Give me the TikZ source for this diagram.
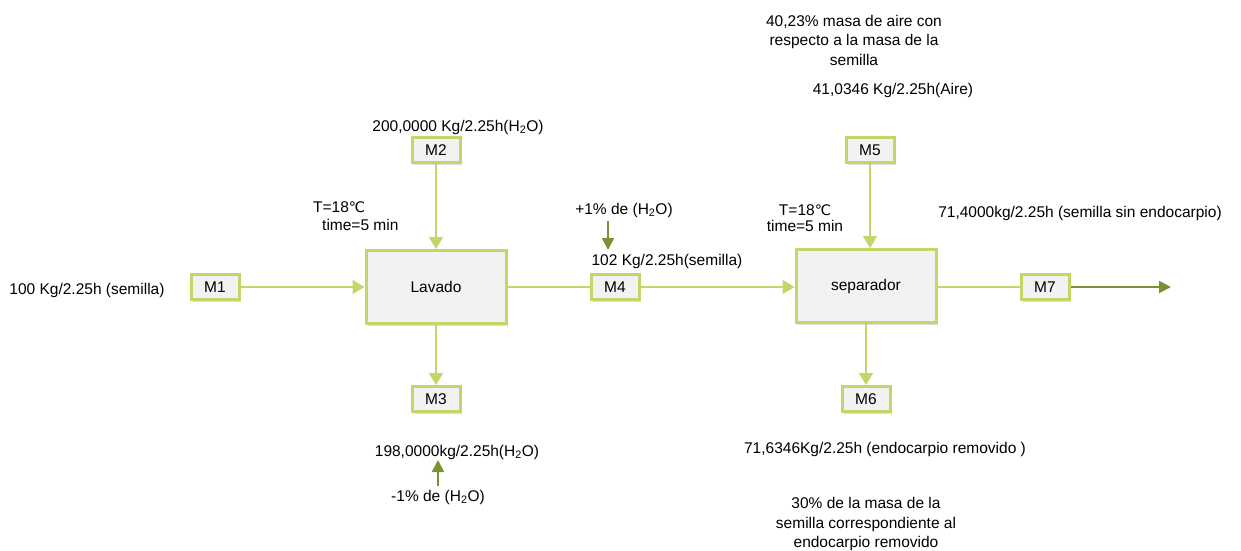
\documentclass[tikz,border=0pt]{standalone}
\usepackage{fontspec}
\setmainfont{Liberation Sans}
\newfontfamily\symfont{DejaVu Sans}
\usetikzlibrary{arrows.meta,shadows}
\definecolor{boxline}{RGB}{195,215,105}
\definecolor{boxfill}{RGB}{242,242,242}
\definecolor{olive}{RGB}{120,146,50}
\newcommand{\degC}{{\symfont\fontsize{14.5}{16}\selectfont ℃}}
\newcommand{\water}{H\textsubscript{2}O}
\tikzset{
  lbl/.style={font=\fontsize{15.5}{19.5}\selectfont, inner sep=0pt, align=center},
  stream/.style={draw=boxline, line width=3pt, fill=boxfill, minimum width=48pt,
    minimum height=25pt, inner sep=0pt, font=\fontsize{15.5}{18}\selectfont,
    drop shadow={shadow xshift=2pt, shadow yshift=-2.5pt, fill=black!25}},
  unit/.style={stream, minimum width=140pt, minimum height=73pt},
  flow/.style={draw=boxline, line width=1.8pt},
  flowarrow/.style={flow, -{Triangle[length=12pt,width=14pt]}},
  darkarrow/.style={draw=olive, line width=1.8pt, -{Triangle[length=12pt,width=12pt]}}
}
\begin{document}
\begin{tikzpicture}[x=1pt,y=-1pt]
\useasboundingbox (0,0) rectangle (1241,550);

% process units
\node[unit] (lav) at (436,287) {Lavado};
\node[unit] (sep) at (866,286) {separador};

% stream boxes
\node[stream] (m1) at (215,287) {M1};
\node[stream] (m2) at (436,150) {M2};
\node[stream] (m3) at (436,399) {M3};
\node[stream] (m4) at (615,287) {M4};
\node[stream] (m5) at (870,150) {M5};
\node[stream] (m6) at (866,399) {M6};
\node[stream] (m7) at (1045,287) {M7};
\coordinate (out) at (1171,287);

% connectors
\draw[flowarrow] (m1.east) -- (lav.west);
\draw[flowarrow] (m2.south) -- (lav.north);
\draw[flowarrow] (lav.south) -- (m3.north);
\draw[flow] (lav.east) -- (m4.west);
\draw[flowarrow] (m4.east) -- (m4.east -| sep.west);
\draw[flowarrow] (m5.south) -- (m5.south |- sep.north);
\draw[flowarrow] (sep.south) -- (m6.north);
\draw[flow] (sep.east |- m7) -- (m7.west);
\draw[darkarrow] (m7.east) -- (out);

% labels
\node[lbl] (t100) at (87,290) {100 Kg/2.25h (semilla)};
\node[lbl] (t200) at (458,127) {200,0000 Kg/2.25h(\water)};
\node[lbl, anchor=west] (ta1) at (313,207) {T=18\degC};
\node[lbl, anchor=west] (tb1) at (322,225) {time=5 min};
\node[lbl] (t198) at (457,452) {198,0000kg/2.25h(\water)};
\node[lbl] (tminus) at (438,497) {-1\% de (\water)};
\node[lbl] (tplus) at (624,210) {+1\% de (\water)};
\node[lbl] (t102) at (667,261) {102 Kg/2.25h(semilla)};
\node[lbl, align=center, font=\fontsize{15.5}{15.5}\selectfont] (t2) at (805,218) {T=18\degC\\time=5 min};
\node[lbl] (taire) at (854,40) {40,23\% masa de aire con\\respecto a la masa de la\\semilla};
\node[lbl] (t41) at (893,90) {41,0346 Kg/2.25h(Aire)};
\node[lbl] (t714) at (1080,213) {71,4000kg/2.25h (semilla sin endocarpio)};
\node[lbl] (t716) at (885,449) {71,6346Kg/2.25h (endocarpio removido )};
\node[lbl] (t30) at (866,524) {30\% de la masa de la\\semilla correspondiente al\\endocarpio removido};

% water gain / loss arrows
\coordinate (pa) at (608,221);
\coordinate (pb) at (608,250);
\draw[darkarrow] (pa) -- (pb);
\coordinate (ma) at (438,486);
\coordinate (mb) at (438,460);
\draw[darkarrow] (ma) -- (mb);
\end{tikzpicture}
\end{document}
